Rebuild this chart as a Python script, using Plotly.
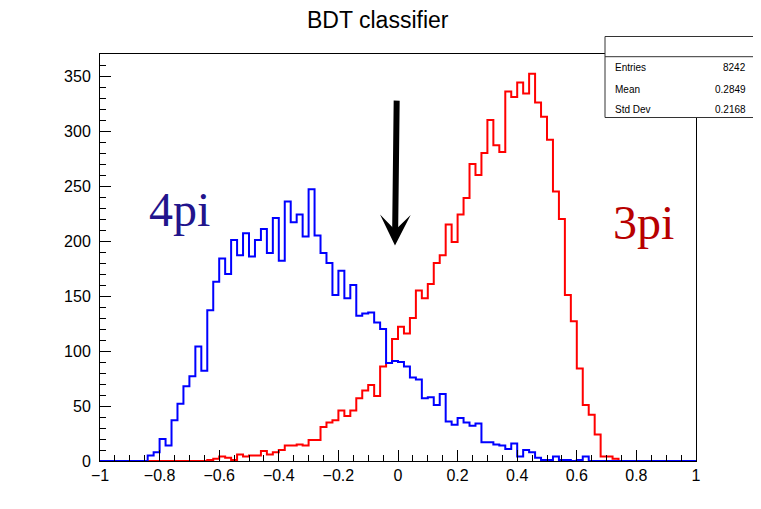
import numpy as np
import plotly.graph_objects as go

# ---- data (100 bins from -1 to 1) ----
x_min, x_max, n_bins = -1.0, 1.0, 100

blue_4pi = [0, 0, 0, 0, 0, 0, 0, 0, 5, 8,
            20, 14, 37, 52, 68, 77, 104, 82, 137, 163,
            184, 170, 201, 187, 207, 186, 201, 211, 189, 221,
            182, 236, 217, 224, 204, 247, 205, 189, 180, 151,
            173, 148, 160, 132, 134, 135, 126, 120, 89, 91,
            90, 86, 76, 74, 57, 58, 51, 61, 36, 33,
            39, 35, 32, 34, 17, 17, 15, 14, 11, 16,
            4, 10, 8, 3, 1, 1, 4, 1, 1, 0,
            1, 4, 0, 0, 0, 0, 0, 0, 0, 0,
            0, 0, 0, 0, 0, 0, 0, 0, 0, 0]

red_3pi = [0, 0, 0, 0, 0, 0, 0, 0, 0, 0,
           0, 0, 0, 0, 0, 0, 0, 0, 1, 2,
           4, 3, 1, 6, 4, 5, 5, 9, 6, 8,
           10, 14, 14, 15, 14, 19, 19, 31, 35, 37,
           46, 41, 46, 57, 64, 69, 59, 86, 89, 111,
           122, 116, 130, 155, 148, 161, 180, 187, 215, 199,
           224, 239, 270, 260, 280, 310, 287, 281, 336, 331,
           344, 334, 352, 326, 313, 292, 245, 220, 151, 127,
           84, 51, 42, 24, 4, 4, 2, 0, 0, 0,
           0, 0, 0, 0, 0, 0, 0, 0, 0, 0]

stats_labels = ["Entries", "Mean", "Std Dev"]
stats_values = ["8242", "0.2849", "0.2168"]

title_text = "BDT classifier"
arrow_tail = (-0.0044, 329)
arrow_tip = (-0.0101, 196)

edges = np.linspace(x_min, x_max, n_bins + 1)


def step(vals):
    return list(edges), list(vals) + [vals[-1]]


fig = go.Figure()
for vals, col in [(red_3pi, "#ff0000"), (blue_4pi, "#0000ff")]:
    xs, ys = step(vals)
    fig.add_trace(go.Scatter(x=xs, y=ys, mode="lines", line=dict(color=col, width=2, shape="hv"),
                             showlegend=False, hoverinfo="skip"))

# plot area geometry in page px (the page body has an 8px margin)
OFF = 8
FW, FH = 761, 509
L, R, T, B = 100, 696, 54, 461
W, H = R - L, B - T


def px(x):
    return (x - L) / W


def py(y):
    return (B - y) / H


tickfont = dict(family="Liberation Sans, Arial, sans-serif", size=16, color="black")
axis_common = dict(showline=True, linecolor="black", linewidth=1, mirror=True, showgrid=False,
                   zeroline=False, ticks="inside", ticklen=11, tickwidth=1, tickcolor="black",
                   tickfont=tickfont)

fig.update_layout(
    width=FW, height=FH,
    margin=dict(l=L - OFF, r=FW - R + OFF, t=T - OFF, b=FH - B + OFF, pad=0),
    paper_bgcolor="white", plot_bgcolor="white",
    xaxis=dict(range=[x_min, x_max], tick0=-1, dtick=0.2,
               minor=dict(tick0=-1, dtick=0.05, ticks="inside", ticklen=6, tickcolor="black"),
               **axis_common),
    yaxis=dict(range=[0, 370], tick0=0, dtick=50, ticklabelstandoff=5,
               minor=dict(tick0=0, dtick=10, ticks="inside", ticklen=6, tickcolor="black"),
               **axis_common),
)

annotations = []
# title
annotations.append(dict(text=title_text, xref="paper", yref="paper", x=px(378), y=py(20),
                        xanchor="center", yanchor="middle", showarrow=False,
                        font=dict(family="Liberation Sans, Arial, sans-serif", size=23, color="black")))
# arrow
annotations.append(dict(text="", x=arrow_tip[0], y=arrow_tip[1], ax=arrow_tail[0], ay=arrow_tail[1],
                        xref="x", yref="y", axref="x", ayref="y", showarrow=True,
                        arrowhead=3, arrowwidth=6, arrowsize=0.85, arrowcolor="black", standoff=0))
# labels
annotations.append(dict(text="4pi", xref="paper", yref="paper", x=px(179), y=py(210),
                        xanchor="center", yanchor="middle", showarrow=False,
                        font=dict(family="Liberation Serif, Times New Roman, serif", size=48, color="#22148c")))
annotations.append(dict(text="3pi", xref="paper", yref="paper", x=px(643), y=py(222),
                        xanchor="center", yanchor="middle", showarrow=False,
                        font=dict(family="Liberation Serif, Times New Roman, serif", size=48, color="#b80000")))

# stats box
box_x0, box_x1, box_y0, box_y1, box_hdr = 605, 757, 117.5, 36.5, 56.7
shapes = [
    dict(type="rect", xref="paper", yref="paper", x0=px(box_x0), x1=px(box_x1), y0=py(box_y0), y1=py(box_y1),
         line=dict(color="#333333", width=1), fillcolor="white", layer="above"),
    dict(type="line", xref="paper", yref="paper", x0=px(box_x0), x1=px(box_x1), y0=py(box_hdr), y1=py(box_hdr),
         line=dict(color="#333333", width=1), layer="above"),
]
row_y = [67.3, 89.5, 109.5]
sfont = dict(family="Liberation Sans, Arial, sans-serif", size=10, color="black")
for lab, val, yy in zip(stats_labels, stats_values, row_y):
    annotations.append(dict(text=lab, xref="paper", yref="paper", x=px(613), y=py(yy),
                            xanchor="left", yanchor="middle", showarrow=False, font=sfont))
    annotations.append(dict(text=val, xref="paper", yref="paper", x=px(748), y=py(yy),
                            xanchor="right", yanchor="middle", showarrow=False, font=sfont))

fig.update_layout(annotations=annotations, shapes=shapes)
fig.write_html("out.html")
